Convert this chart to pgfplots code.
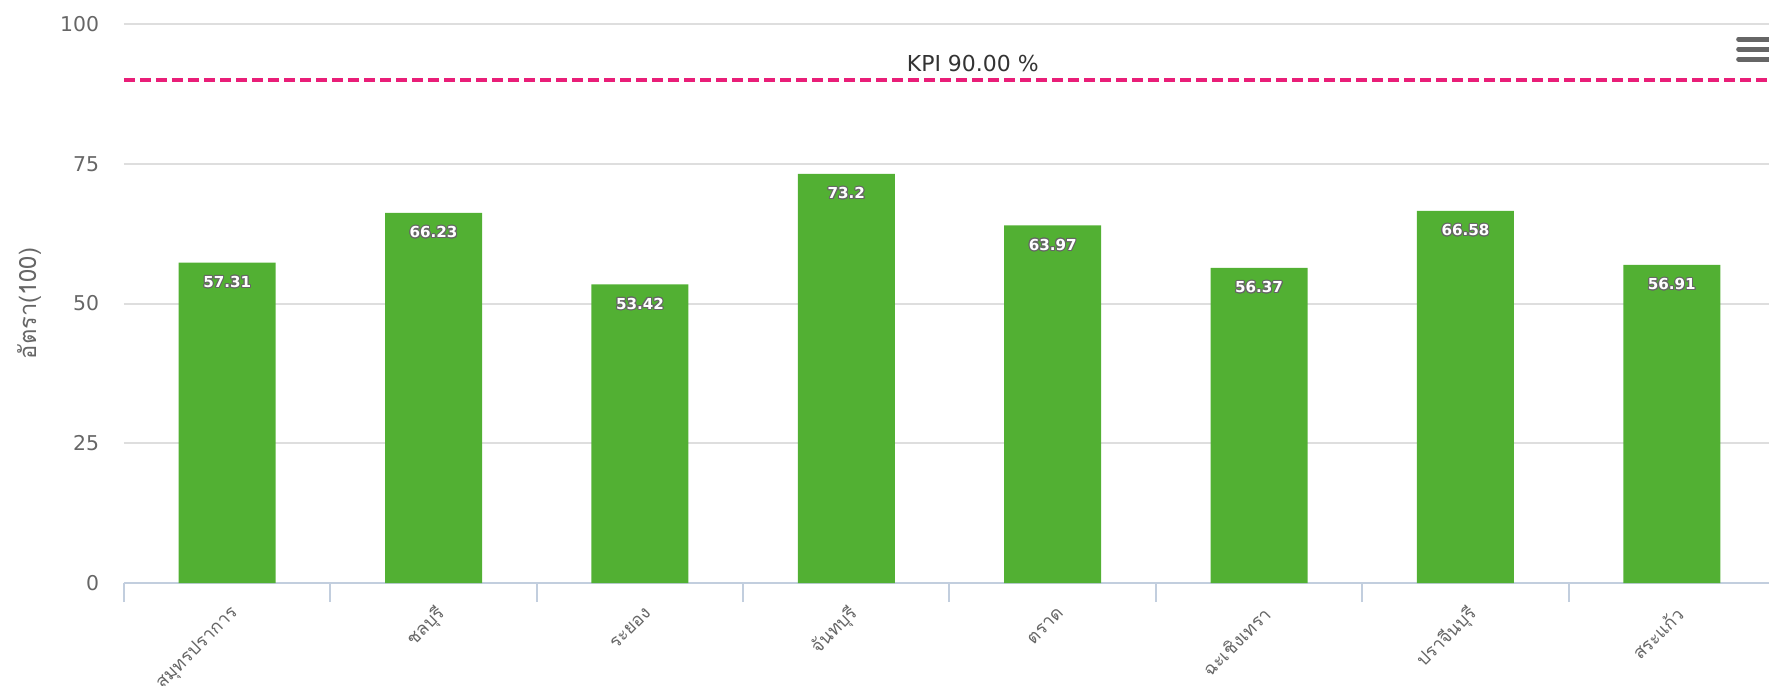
\documentclass[border=0pt]{standalone}
\usepackage{pgfplots}
\pgfplotsset{compat=1.18}
\usepackage{fontspec}
\setmainfont{DejaVu Sans}
\newfontfamily\thaifont[Script=Thai]{Loma}
\usepackage{contour}
\contourlength{0.55pt}

\definecolor{bargreen}{RGB}{82,176,51}
\definecolor{kpipink}{RGB}{233,30,120}
\definecolor{txtgray}{RGB}{102,102,102}
\definecolor{gridgray}{RGB}{222,222,222}
\definecolor{axisblue}{RGB}{194,206,222}

\begin{document}
\begin{tikzpicture}
\begin{axis}[
    at={(0,0)}, anchor=south west,
    scale only axis,
    width=33.02cm, height=11.18cm,
    xmin=-0.5, xmax=7.5, ymin=0, ymax=100,
    clip=false,
    axis lines*=left,
    x axis line style={draw=axisblue, line width=0.04cm, -},
    y axis line style={draw=none},
    /pgf/number format/assume math mode=true,
    ytick={0,25,50,75,100},
    ymajorgrids,
    major grid style={draw=gridgray, line width=0.04cm},
    major tick length=0pt,
    major y tick style={draw=none},
    major x tick style={draw=none},
    xtick={0.04,1.04,2.04,3.04,4.04,5.04,6.04,7.04},
    xticklabels={สมุทรปราการ, ชลบุรี, ระยอง, จันทบุรี, ตราด, ฉะเชิงเทรา, ปราจีนบุรี, สระแก้ว},
    minor xtick={-0.5,0.5,1.5,2.5,3.5,4.5,5.5,6.5,7.5},
    minor x tick style={draw=axisblue, line width=0.04cm},
    minor tick length=0.38cm,
    tick align=outside,
    yticklabel style={anchor=east, inner sep=0pt, xshift=-0.49cm,
        font=\fontsize{11.6}{13}\selectfont, text=txtgray},
    xticklabel style={rotate=45, anchor=east, inner sep=0pt,
        font=\thaifont\fontsize{10.3}{12}\selectfont, text=txtgray},
    xticklabel shift=0.55cm,
    ylabel={\thaifont อัตรา(100)},
    ylabel style={at={(axis description cs:-0.0575,0.5)}, anchor=center,
        font=\fontsize{13.5}{15}\selectfont, text=txtgray},
]

% rates per province
\addplot[ybar, bar width=0.47, fill=bargreen, draw=none,
    nodes near coords={\contour{black!60}{\pgfmathprintnumber{\pgfplotspointmeta}}},
    every node near coord/.append style={anchor=north, text=white,
        font=\bfseries\fontsize{8.6}{9}\selectfont, yshift=-0.15cm}]
coordinates {
    (0,57.31)
    (1,66.23)
    (2,53.42)
    (3,73.2)
    (4,63.97)
    (5,56.37)
    (6,66.58)
    (7,56.91)
};

% KPI line
\addplot[kpipink, line width=0.08cm, dash pattern=on 0.22cm off 0.1cm]
coordinates {(-0.5,90) (7.5,90)};
\node[anchor=base, inner sep=0pt, yshift=0.16cm, text=black!80,
    font=\fontsize{12.5}{14}\selectfont] at (axis cs:3.613,90) {KPI 90.00 \%};

% menu icon
\draw[txtgray, line width=0.1cm, line cap=round]
    (rel axis cs:0.978,0.973) -- (rel axis cs:1.0,0.973)
    (rel axis cs:0.978,0.955) -- (rel axis cs:1.0,0.955)
    (rel axis cs:0.978,0.937) -- (rel axis cs:1.0,0.937);
\end{axis}
\pgfresetboundingbox
\useasboundingbox (-2.48cm,-2.04cm) rectangle (32.9cm,11.66cm);
\end{tikzpicture}
\end{document}
